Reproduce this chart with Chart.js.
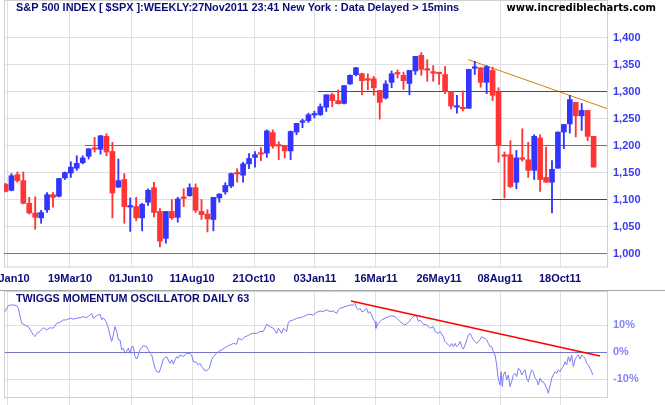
<!DOCTYPE html>
<html><head><meta charset="utf-8">
<script src="https://cdn.jsdelivr.net/npm/chart.js@4.4.1/dist/chart.umd.min.js"></script>
<style>
html,body{margin:0;padding:0;background:#fff;width:665px;height:405px;overflow:hidden;}
#wrap{position:relative;width:665px;height:405px;}
#c1{position:absolute;left:0;top:0;}
#c2{position:absolute;left:0;top:290px;}
</style></head><body>
<div id="wrap"><canvas id="c1" width="665" height="290"></canvas><canvas id="c2" width="665" height="115"></canvas></div>
<script>
// ---- weekly S&P 500 candles (week index 0 = week of 28Dec09) ----
const opens = [1128,1117,1146,1135,1093,1075,1066,1081,1109,1106,
  1140,1149,1158,1168,1180,1195,1193,1217,1189,1123,
  1137,1086,1087,1066,1095,1122,1078,1028,1078,1067,
  1104,1107,1122,1078,1073,1063,1103,1114,1125,1148.5,
  1145,1166,1178,1185,1186,1224,1200,1199,1190,1225,
  1243,1246,1256.5,1257,1271,1294,1283,1278,1314,1331,
  1333,1322,1323.5,1302,1288,1317,1334,1330,1315,1338,
  1367,1341,1335.5,1334,1331.5,1300,1271,1269,1269,1343,
  1344,1317,1339,1299,1182,1183,1132,1176,1173.5,1154,
  1214,1141,1132,1158,1225,1240,1280,1255,1265,1217];
const highs = [1130,1148,1151,1151,1104,1105,1080,1113,1113,1139,
  1151,1170,1181,1181,1194,1215,1219,1222,1206,1175,
  1148,1103,1104,1093,1120,1132,1083,1078,1100,1104,
  1120,1129,1129,1100,1081,1104,1111,1131,1149,1157,
  1169,1185,1189,1196,1229,1229,1207,1200,1227,1241,
  1249,1260,1263.5,1277,1294,1297,1303,1311,1331,1345,
  1334,1333,1328,1302,1320,1338,1340,1336,1339,1365,
  1372,1359,1348,1335,1346,1300,1293,1301,1341,1356,
  1344,1348,1345,1307,1188,1209,1191,1231,1206,1220,
  1220,1197,1172,1225,1239,1293,1280,1278,1265,1217];
const lows = [1114,1116,1132,1092,1073,1045,1056,1076,1086,1105,
  1137,1141,1154,1166,1175,1188,1184,1181,1066,1122,
  1056,1041,1061,1042,1089,1068,1012,1019,1063,1058,
  1087,1106,1076,1063,1040,1042,1095,1110,1122,1132,
  1132,1157,1160,1172,1178,1195,1174,1177,1174,1220,
  1233,1243,1251,1255.6,1263,1272,1277,1277,1313,1329,
  1294,1303,1293,1249,1286,1307,1325,1304,1294,1331.5,
  1330,1319,1319,1313,1296,1268,1260,1264,1269,1331.5,
  1308,1296,1283,1169,1103,1122,1120,1171,1141,1137,
  1115,1132,1075,1158,1194,1223,1216,1228,1209,1160];
const closes = [1115,1144,1135,1093,1075,1067,1076,1109,1104,1139,
  1150,1160,1167,1177,1194,1193,1218,1188,1112,1135,
  1087,1088,1066,1091,1117,1076,1023,1078,1066,1101,
  1102,1122,1080,1072,1064,1104,1110,1126,1148,1147.5,
  1166,1176,1183,1184,1227,1199,1199,1190,1226,1241,
  1244,1257,1257.5,1272,1294,1283,1277.5,1311,1330,1344,
  1320,1321,1307,1280,1314,1333,1332.5,1320,1339,1365,
  1341,1339.5,1334,1333,1300,1273,1272,1268,1341,1345,
  1317,1346,1293,1200,1180,1124,1177,1174.5,1154,1217,
  1137,1132,1156,1225,1239,1285,1255,1265,1217,1160];

// date axis: tick positions (in weeks) and their labels
const gridWeeks = [0.42,10.86,21.13,31.40,41.84,52.10,62.37,72.98,83.25,93.35];
const gridLabels = ['04Jan10','19Mar10','01Jun10','11Aug10','21Oct10','03Jan11','16Mar11','26May11','08Aug11','18Oct11'];
const priceTicks = [1000,1050,1100,1150,1200,1250,1300,1350,1400];
const oscTicks = [-10,0,10];

// horizontal support / resistance levels
const levelValues = [1300,1200,1100,1000];
const levelStartWeek = [52.6,13.38,81.9,-0.25];
// price trendline
const trendWeeks = [77.86,101.26];
const trendPrices = [1359.3,1268.5];

// Twiggs Momentum Oscillator (daily 63), week position and value %
const oscWeek = [-0.08,0.48,1.0,1.88,2.16,2.72,3.28,3.84,4.69,4.97,5.25,5.81,6.37,6.93,7.49,8.05,8.61,9.18,9.74,10.30,
  10.86,11.42,11.98,12.54,13.10,13.66,14.23,14.51,14.79,15.35,15.91,16.19,16.47,16.92,17.31,17.59,17.87,18.15,18.43,18.72,
  19.0,19.28,19.56,19.84,20.12,20.40,20.68,20.96,21.24,21.52,21.80,22.08,22.36,22.64,23.2,23.77,24.05,24.33,24.61,24.89,
  25.17,25.45,25.90,26.29,26.57,27.13,27.69,27.97,28.25,28.54,28.82,29.10,29.38,29.94,30.50,31.06,31.34,31.62,32.18,32.46,
  32.74,33.03,33.42,33.87,34.31,34.71,34.99,35.55,35.83,36.39,36.95,37.23,37.79,38.36,38.92,39.20,39.76,40.32,40.88,41.16,
  41.72,42.29,42.85,43.41,43.97,44.53,45.09,45.65,45.93,46.49,46.77,47.34,47.62,47.90,48.46,49.02,49.58,50.14,50.70,51.26,
  51.82,52.39,52.95,53.51,54.07,54.63,
  55.19,55.75,56.03,56.31,57.16,58.00,58.56,58.84,59.12,59.40,
  59.68,59.96,60.24,60.80,61.08,61.36,61.65,61.93,62.21,62.37,
  62.77,63.33,63.89,64.45,65.01,65.57,65.85,66.41,66.98,67.26,
  67.82,68.38,68.66,68.94,69.22,69.50,69.78,70.06,70.34,70.90,
  71.47,72.03,72.31,72.87,73.15,73.71,73.99,74.55,74.83,75.11,
  75.39,75.67,75.95,76.24,76.52,76.80,77.08,77.36,77.64,77.92,
  78.20,78.48,78.76,79.04,79.32,79.60,79.88,80.16,80.44,80.73,
  81.01,81.29,81.57,81.85,82.13,82.41,82.69,82.86,83.08,83.25,
  83.42,83.64,83.81,84.09,84.37,84.65,84.93,85.21,85.49,85.77,
  86.06,86.34,86.62,86.90,87.18,87.46,87.74,88.02,88.30,88.58,
  88.86,89.14,89.42,89.70,89.98,90.26,90.54,90.83,91.11,91.39,
  91.56,91.78,91.95,92.23,92.51,92.79,93.07,93.35,93.63,93.91,
  94.19,94.47,94.75,95.03,95.31,95.60,95.88,96.16,96.44,96.72,
  97.00,97.28,97.56,97.84,98.12,98.40,98.68,98.85];
const oscVal = [15.1,17.3,17.6,17.3,16.3,10.7,10.1,9.5,6.4,5.8,7.0,7.7,9.1,8.3,9.1,8.9,10.7,11.1,12.0,12.0,
  12.6,12.3,12.6,12.8,13.2,12.8,13.8,14.4,12.6,13.6,14.1,12.0,12.8,11.4,8.9,6.4,4.0,6.4,9.5,7.7,
  4.6,4.6,0.9,1.5,-0.4,0.2,1.5,-0.4,2.1,2.1,-1.6,-2.5,-1.0,0.9,2.5,2.1,0.9,-0.4,-1.0,-3.5,
  -5.9,-7.2,-7.4,-4.7,-2.5,-1.6,-4.1,-2.8,-4.4,-2.8,-1.6,-2.2,-1.0,-1.6,-0.4,-0.4,-1.0,-3.5,-3.7,-4.7,
  -4.1,-5.3,-6.5,-6.9,-5.9,-2.8,-1.6,-0.4,0.2,0.9,1.7,2.1,2.7,3.3,3.0,5.2,4.6,5.8,6.2,6.7,
  7.0,7.0,7.7,7.7,10.4,9.5,8.9,7.0,8.9,7.0,8.9,7.7,11.1,11.6,12.0,12.6,12.8,13.2,13.8,14.1,
  13.8,14.8,15.3,15.1,15.7,15.1,
  15.3,14.4,15.7,16.3,16.9,17.5,17.5,18.1,16.3,15.7,
  16.3,15.1,15.1,16.3,14.4,15.1,13.8,12.0,11.4,8.9,
  10.7,12.0,12.6,13.2,13.5,13.2,12.6,11.4,10.4,10.1,
  11.1,12.6,13.2,13.6,13.2,11.4,12.0,11.1,10.4,10.1,
  8.9,9.5,7.7,7.0,7.7,5.8,4.0,2.7,2.1,3.3,
  2.1,3.3,2.1,2.7,4.0,2.1,1.2,2.7,4.6,6.4,
  7.0,5.8,4.6,4.0,3.3,4.0,4.6,5.8,5.2,5.2,
  4.6,3.3,2.1,2.1,0.2,-1.0,-4.7,-8.4,-10.9,-12.1,
  -7.2,-12.7,-8.4,-7.2,-10.2,-8.4,-12.7,-10.9,-8.4,-7.8,
  -9.0,-5.9,-6.5,-8.4,-7.2,-6.5,-9.6,-10.9,-8.4,-6.5,
  -7.2,-9.6,-10.2,-12.1,-9.6,-10.9,-10.9,-12.1,-13.3,-15.2,
  -13.3,-11.5,-9.6,-8.4,-7.2,-7.8,-6.5,-7.2,-5.9,-5.3,
  -3.5,-4.7,-1.6,-3.5,-1.0,-5.3,-2.8,-1.6,-1.0,-2.5,
  -1.0,-1.6,-2.2,-4.1,-4.7,-5.9,-7.2,-8.4];
const oscTrendWeeks = [58.16,100.08];
const oscTrendVals = [19.0,-1.4];

// ---- view / style ----
const X_MIN = -0.25, X_MAX = 101.26;
const Y_MIN = 975.03, Y_MAX = 1467.63;
const BLUE = '#3434ff', RED = '#ff3434';
const GRID = '#e0e0e0';
const FONT = "'Liberation Sans', Arial, sans-serif";

const idx = opens.map((_, i) => i);
const cols = idx.map(i => closes[i] >= opens[i] ? BLUE : RED);

const xScaleBase = () => ({
  type: 'linear', min: X_MIN, max: X_MAX, offset: false,
  afterBuildTicks: s => { s.ticks = gridWeeks.map(v => ({value: v})); },
  grid: {color: GRID, offset: false},
  border: {display: false}
});

const deco1 = {
  id: 'deco1',
  beforeDatasetsDraw(chart) {
    const {ctx, chartArea: a} = chart;
    ctx.save();
    ctx.strokeStyle = '#d0d0d0'; ctx.lineWidth = 1;
    ctx.strokeRect(a.left + 0.5, 0.5, a.right - a.left, a.bottom - 0.5);
    ctx.restore();
  },
  afterDraw(chart) {
    const ctx = chart.ctx;
    ctx.save();
    ctx.textBaseline = 'middle'; ctx.textAlign = 'left';
    ctx.font = "bold 10.9px " + FONT; ctx.fillStyle = '#0c0c78';
    ctx.fillText('S&P 500 INDEX [ $SPX ]:WEEKLY:27Nov2011 23:41 New York : Data Delayed > 15mins', 16, 8);
    ctx.textAlign = 'right'; ctx.fillStyle = '#000';
    ctx.font = "bold 10px 'DejaVu Sans', sans-serif";
    ctx.fillText('www.incrediblecharts.com', 656, 8);
    ctx.restore();
  }
};

const lineDs = (pts, color, w, order) => ({
  type: 'line', data: pts, borderColor: color, borderWidth: w,
  pointRadius: 0, tension: 0, order: order, fill: false
});

const levelColors = ['#008000', '#808000', '#e00000', '#c86414'];
const levelSets = levelValues.map((v, k) =>
  lineDs([{x: levelStartWeek[k], y: v}, {x: X_MAX, y: v}], levelColors[k], 1, 3));

new Chart(document.getElementById('c1'), {
  type: 'bar',
  data: {
    datasets: [
      {type: 'bar', data: idx.map(i => ({x: i, y: [opens[i], closes[i]]})),
        backgroundColor: cols, barThickness: 5, minBarLength: 1.5, grouped: false, order: 1},
      {type: 'bar', data: idx.map(i => ({x: i, y: [lows[i], highs[i]]})),
        backgroundColor: cols, barThickness: 1.2, grouped: false, order: 2},
      ...levelSets,
      lineDs(trendWeeks.map((w, k) => ({x: w, y: trendPrices[k]})), '#d4800c', 1, 3)
    ]
  },
  options: {
    responsive: false, animation: false, devicePixelRatio: 1,
    layout: {padding: {left: 4, top: 1, right: 0, bottom: 0}},
    plugins: {legend: {display: false}, tooltip: {enabled: false}},
    scales: {
      x: Object.assign(xScaleBase(), {
        afterFit: s => { s.height = 23; s.paddingLeft = 0; s.paddingRight = 0; },
        ticks: {autoSkip: false, maxRotation: 0, minRotation: 0, padding: 5, color: '#0c0c78',
          font: {family: FONT, size: 11, weight: 'bold'},
          callback: (v, i) => gridLabels[i]},
        grid: {color: GRID, offset: false, drawTicks: false}
      }),
      y: {
        type: 'linear', position: 'right', min: Y_MIN, max: Y_MAX,
        afterBuildTicks: s => { s.ticks = priceTicks.map(v => ({value: v})); },
        afterFit: s => { s.width = 58; s.paddingTop = 0; s.paddingBottom = 0; },
        ticks: {padding: 6, color: '#3a3af0', font: {family: FONT, size: 11, weight: 'bold'},
          callback: v => v.toLocaleString('en-US')},
        grid: {color: GRID, drawTicks: false},
        border: {display: false}
      }
    }
  },
  plugins: [deco1]
});

const deco2 = {
  id: 'deco2',
  beforeDatasetsDraw(chart) {
    const {ctx, chartArea: a} = chart;
    ctx.save();
    ctx.strokeStyle = '#d0d0d0'; ctx.lineWidth = 1;
    ctx.strokeRect(a.left + 0.5, a.top + 0.5, a.right - a.left, a.bottom - a.top);
    ctx.strokeStyle = '#a8a8a8';
    ctx.beginPath(); ctx.moveTo(0, 0.5); ctx.lineTo(665, 0.5); ctx.stroke();
    ctx.restore();
  },
  afterDraw(chart) {
    const ctx = chart.ctx;
    ctx.save();
    ctx.textBaseline = 'middle'; ctx.textAlign = 'left';
    ctx.font = "bold 10.8px " + FONT; ctx.fillStyle = '#0c0c78';
    ctx.fillText('TWIGGS MOMENTUM OSCILLATOR DAILY 63', 16, 9);
    ctx.restore();
  }
};

new Chart(document.getElementById('c2'), {
  type: 'line',
  data: {
    datasets: [
      lineDs(oscWeek.map((w, k) => ({x: w, y: oscVal[k]})), '#7c7cf4', 1, 2),
      lineDs(oscTrendWeeks.map((w, k) => ({x: w, y: oscTrendVals[k]})), '#ff0000', 1.6, 1)
    ]
  },
  options: {
    responsive: false, animation: false, devicePixelRatio: 1,
    layout: {padding: {left: 4, top: 1, right: 0, bottom: 0}},
    plugins: {legend: {display: false}, tooltip: {enabled: false}},
    scales: {
      x: Object.assign(xScaleBase(), {
        afterFit: s => { s.height = 8; s.paddingLeft = 0; s.paddingRight = 0; },
        ticks: {display: false},
        grid: {color: GRID, offset: false, drawTicks: true, tickLength: 8}
      }),
      y: {
        type: 'linear', position: 'right', min: -16.56, max: 22.7,
        afterBuildTicks: s => { s.ticks = oscTicks.map(v => ({value: v})); },
        afterFit: s => { s.width = 58; s.paddingTop = 0; s.paddingBottom = 0; },
        ticks: {padding: 6, color: '#8585f2', font: {family: FONT, size: 11, weight: 'bold'},
          callback: v => v + '%'},
        grid: {color: c => (c.tick && c.tick.value === 0) ? '#7474c8' : GRID, drawTicks: false},
        border: {display: false}
      }
    }
  },
  plugins: [deco2]
});
</script>
</body></html>
